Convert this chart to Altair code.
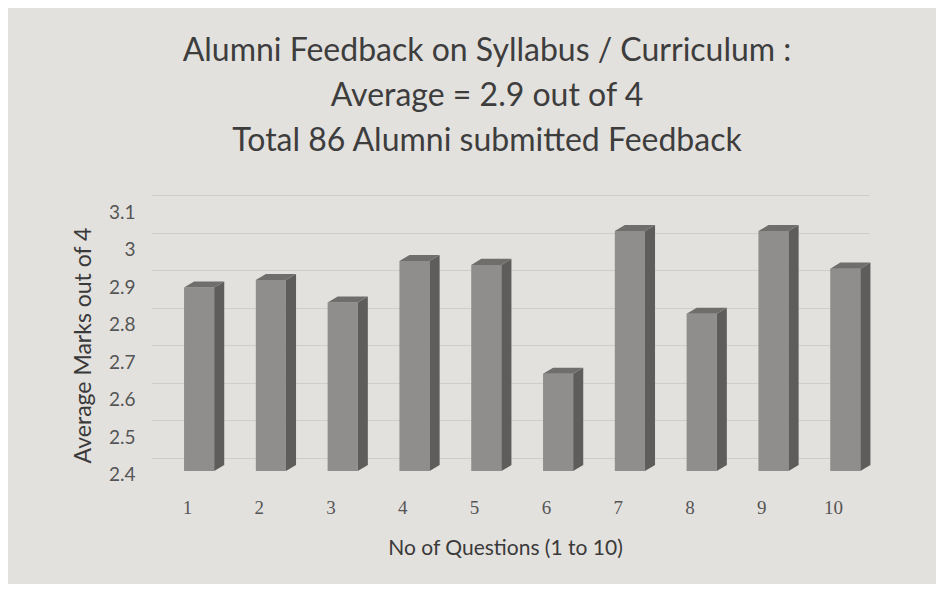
import altair as alt
import pandas as pd

questions = [1, 2, 3, 4, 5, 6, 7, 8, 9, 10]
values = [2.87, 2.89, 2.83, 2.94, 2.93, 2.64, 3.02, 2.80, 3.02, 2.92]
y_ticks = [2.4, 2.5, 2.6, 2.7, 2.8, 2.9, 3.0, 3.1]
title_lines = ["Alumni Feedback on Syllabus / Curriculum :",
               "Average = 2.9 out of 4",
               "Total 86 Alumni submitted Feedback"]

# 3D look parameters (in data units)
BASE = 2.365
XL, XR = -0.04, 0.38
DX = 0.14
DY = 0.016

front_rows, side_rows, top_rows = [], [], []
for q, v in zip(questions, values):
    front_rows.append({"q": q, "x": q + XL, "x2": q + XR, "y": v - DY, "y2": BASE})
    side_rows += [
        {"q": q, "x": q + XR, "y": v - DY, "y2": BASE},
        {"q": q, "x": q + XR + DX, "y": v, "y2": BASE + DY},
    ]
    top_rows += [
        {"q": q, "x": q + XL, "y": v - DY, "y2": v - DY},
        {"q": q, "x": q + XL + DX, "y": v, "y2": v - DY},
        {"q": q, "x": q + XR, "y": v, "y2": v - DY},
        {"q": q, "x": q + XR + DX, "y": v, "y2": v},
    ]

front = pd.DataFrame(front_rows)
side = pd.DataFrame(side_rows)
top = pd.DataFrame(top_rows)

xscale = alt.Scale(domain=[0.5, 10.5], nice=False, zero=False)
yscale = alt.Scale(domain=[2.36, 3.1], nice=False, zero=False)

xaxis = alt.Axis(values=questions, title="No of Questions (1 to 10)", grid=False,
                 domain=False, ticks=False, labelPadding=25, labelFont="Liberation Serif",
                 labelFontSize=19, labelColor="#555555", titleFont="Lato", titleFontSize=21,
                 titleFontWeight="normal", titleColor="#3a3a3a", titleY=64, titleX=354,
                 format="d", labelOverlap=False, tickCount=20)
yaxis = alt.Axis(values=y_ticks, title="Average Marks out of 4", grid=True,
                 gridColor="#cfcdca", gridWidth=1, domain=False, ticks=False,
                 labelPadding=16, labelOffset=17, labelFont="Lato", labelFontSize=19,
                 labelColor="#555555", titleFont="Lato", titleFontSize=23,
                 titleFontWeight="normal", titleColor="#3a3a3a", titleX=-56, titleY=150,
                 labelOverlap=False, tickCount=20,
                 labelExpr="datum.value == 3 ? '3' : format(datum.value, '.1f')")

front_layer = alt.Chart(front).mark_rect(color="#8f8e8d").encode(
    x=alt.X("x:Q", scale=xscale, axis=xaxis),
    x2="x2:Q",
    y=alt.Y("y:Q", scale=yscale, axis=yaxis),
    y2="y2:Q",
)

side_layer = alt.Chart(side).mark_area(color="#5e5d5c").encode(
    x=alt.X("x:Q", scale=xscale),
    y=alt.Y("y:Q", scale=yscale, stack=None),
    y2="y2:Q",
    detail="q:N",
)

top_layer = alt.Chart(top).mark_area(color="#6f6e6d").encode(
    x=alt.X("x:Q", scale=xscale),
    y=alt.Y("y:Q", scale=yscale, stack=None),
    y2="y2:Q",
    detail="q:N",
)

chart = alt.layer(front_layer, side_layer, top_layer).properties(
    width=718,
    height=278,
    autosize=alt.AutoSizeParams(type="none"),
    padding={"left": 143, "top": 187, "right": 67, "bottom": 111},
    background="#e3e1de",
    title=alt.TitleParams(text=title_lines, font="Lato", fontSize=32, fontWeight="normal",
                          color="#3d3d3d", anchor="middle", offset=37, dx=-23,
                          lineHeight=45),
).configure_view(stroke=None)

chart.save("out.html", embed_options={"renderer": "svg", "actions": False})
